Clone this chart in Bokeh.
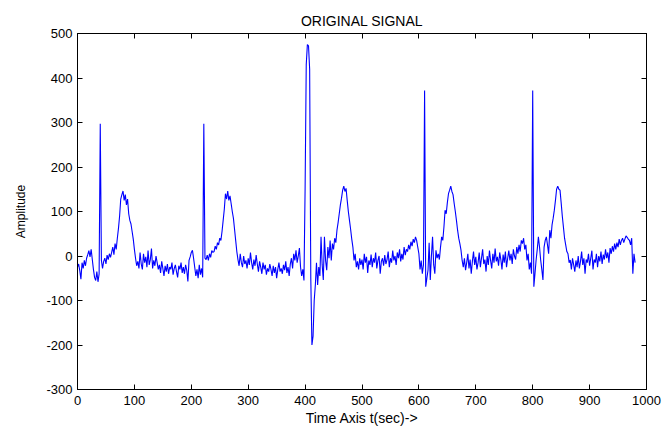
from bokeh.plotting import figure
from bokeh.models import LinearAxis, FixedTicker, Range1d, ColumnDataSource, CustomJSTickFormatter
from bokeh.embed import file_html
from bokeh.resources import INLINE

# sample times (every 2 s) and amplitudes
time = list(range(0, 981, 2))
amplitude = [
    -25, -18, -33, -52, -15, -28, -10, -22, -5, 3,
    12, -2, 15, -8, -30, -48, -55, -35, -58, -40,
    297, -10, -28, -12, -5, -18, 2, -8, 5, -3,
    8, 20, 3, 28, 15, 40, 62, 90, 128, 138,
    146, 125, 138, 115, 128, 95, 80, 72, 55, 38,
    15, -5, -22, -12, -28, 8, -18, -30, 5, -15,
    -2, -25, 12, -20, -8, 17, -28, -10, -22, 0,
    -15, -30, -20, -38, -12, -28, -45, -22, -35, -18,
    -40, -25, -30, -15, -42, -28, -20, -35, -48, -22,
    -30, -15, -38, -25, -40, -20, -32, -57, -10, -2,
    8, 13, -5, -25, -45, -30, -50, -20, -42, -28,
    -48, 297, -5, -8, 2, -10, 5, -3, 12, 8,
    10, 22, 15, 30, 25, 40, 35, 55, 80, 105,
    140, 128, 146, 125, 135, 118, 100, 85, 60, 35,
    10, -8, -22, 5, -15, -25, 0, -18, -10, -28,
    -5, -20, 8, -15, -30, -8, -22, 2, -18, -35,
    -12, -25, -40, -15, -30, -20, -42, -28, -35, -18,
    -30, -45, -22, -38, -25, -50, -30, -15, -35, -28,
    -40, -20, -32, -12, -38, -25, -45, -18, -5, -28,
    5, -10, 13, -15, 0, 18, -25, -45, -30, -55,
    150, 430, 475, 472, 420, -50, -200, -180, -100, -65,
    -15, -65, -25, -45, 43, -20, -54, 43, -10, -32,
    20, -5, 35, -10, 28, 15, 40, 30, 58, 75,
    95, 115, 130, 148, 157, 145, 152, 125, 100, 80,
    60, 38, 20, -10, 5, -25, -12, -30, -5, -20,
    -8, -30, 5, -15, -2, -38, -10, -20, 3, -25,
    -5, -15, 8, -28, -10, 0, -40, -12, -5, -22,
    2, -18, -8, 10, -25, -5, -15, 12, -10, 0,
    -20, 8, -5, 15, -12, 5, -8, 20, 2, 15,
    10, 25, 15, 32, 22, 38, 30, 43, 35, 20,
    5, -30, -10, -40, -20, 372, -69, -50, -32, 30,
    -54, 0, 43, -20, -40, 13, -5, 5, -8, 20,
    43, 35, 65, 103, 95, 120, 140, 148, 157, 145,
    138, 118, 100, 80, 58, 40, 28, 13, -10, -25,
    -5, -32, -15, 5, -28, -8, -40, -12, 10, -20,
    -2, -30, -15, 8, -25, -5, 15, -18, -8, -35,
    0, -20, 12, -10, -28, 5, -15, 17, -12, -2,
    -22, 8, -8, -30, 3, -15, 10, -25, -5, 12,
    -10, 5, -18, 15, 0, -8, 20, 5, 25, 10,
    35, 28, 40, 15, 25, -10, 5, -30, -15, -40,
    372, -69, -40, -9, 15, 43, 20, -9, -30, -54,
    20, 35, 43, 25, 5, 58, 40, 70, 85, 103,
    125, 150, 157, 150, 148, 120, 90, 65, 40, 25,
    10, 5, -15, -9, -30, -5, -20, -35, -10, -25,
    0, -28, -12, 10, -20, -5, -40, -8, -15, 5,
    -22, -5, 12, -30, -8, -15, 5, -25, 0, -12,
    10, -18, 3, -8, 15, -5, 8, -15, 18, 5,
    22, 10, 28, 15, 30, 20, 38, 25, 35, 40,
    30, 38, 45, 42, 38, 35, 25, 40, -40, 5,
    -15,
]
n = min(len(time), len(amplitude))
time = time[:n]
amplitude = amplitude[:n]

x_ticks = [0, 100, 200, 300, 400, 500, 600, 700, 800, 900, 1000]
y_ticks = [-300, -200, -100, 0, 100, 200, 300, 400, 500]

title_text = "ORIGINAL SIGNAL"
x_label = "Time Axis t(sec)->"
y_label = "Amplitude"

FONT = "Liberation Sans"

p = figure(width=662, height=429, output_backend="svg", toolbar_location=None,
           x_range=Range1d(0, 1000), y_range=Range1d(-300, 500),
           title=title_text,
           min_border_left=77, min_border_right=16,
           min_border_top=33, min_border_bottom=40)

p.title.text_font = FONT
p.title.text_font_size = "14px"
p.title.text_font_style = "normal"
p.title.align = "center"
p.title.text_color = "black"
p.title.standoff = 9
p.title.offset = 0

src = ColumnDataSource(dict(t=time, a=amplitude))
p.line("t", "a", source=src, line_color="#0000ff", line_width=1.1)

p.grid.visible = False
p.outline_line_color = "black"
p.outline_line_width = 1
p.background_fill_color = "white"
p.border_fill_color = "white"

def style_axis(ax, ticks, show_labels):
    ax.ticker = FixedTicker(ticks=ticks)
    ax.major_tick_in = 5
    ax.major_tick_out = 0
    ax.minor_tick_in = 0
    ax.minor_tick_out = 0
    ax.axis_line_color = "black"
    ax.major_tick_line_color = "black"
    ax.major_label_text_font = FONT
    ax.major_label_text_color = "black"
    if show_labels:
        ax.major_label_text_font_size = "13px"
        ax.major_label_overrides = {t: str(t) for t in ticks}
    else:
        ax.formatter = CustomJSTickFormatter(code="return ''")
        ax.major_label_standoff = 0

style_axis(p.xaxis[0], x_ticks, True)
style_axis(p.yaxis[0], y_ticks, True)
p.xaxis[0].major_label_standoff = 6
p.yaxis[0].major_label_standoff = 5

p.xaxis[0].axis_label = x_label
p.yaxis[0].axis_label = y_label
for ax in (p.xaxis[0], p.yaxis[0]):
    ax.axis_label_text_font = FONT
    ax.axis_label_text_font_style = "normal"
    ax.axis_label_text_color = "black"
p.xaxis[0].axis_label_text_font_size = "14px"
p.yaxis[0].axis_label_text_font_size = "12px"
p.xaxis[0].axis_label_standoff = 2
p.yaxis[0].axis_label_standoff = 15

top_axis = LinearAxis()
right_axis = LinearAxis()
style_axis(top_axis, x_ticks, False)
style_axis(right_axis, y_ticks, False)
p.add_layout(top_axis, "above")
p.add_layout(right_axis, "right")

open("out.html", "w").write(file_html(p, INLINE))
